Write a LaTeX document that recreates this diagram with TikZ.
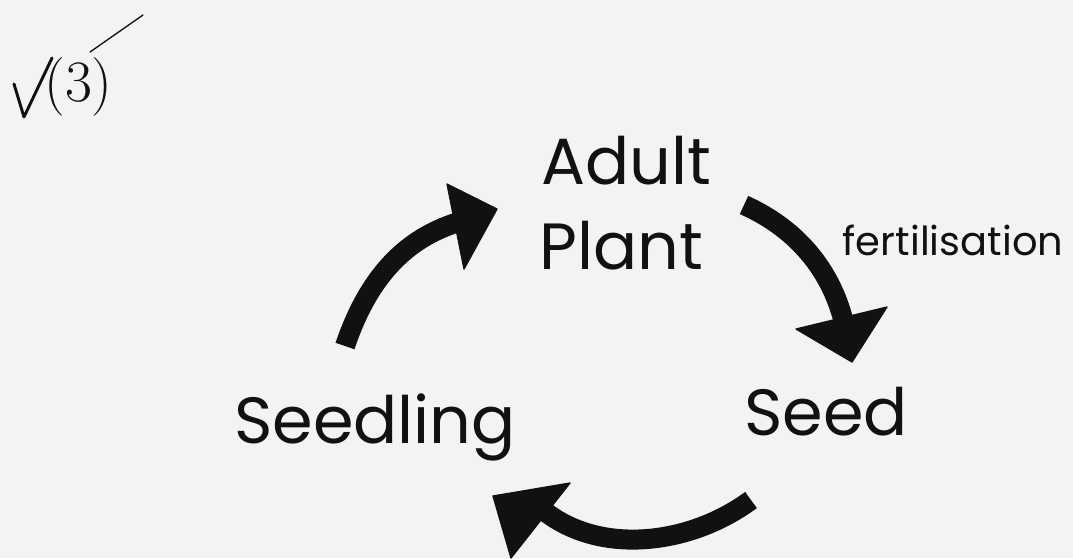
\documentclass[tikz,border=0pt]{standalone}
\usepackage{fontspec}
\setmainfont{Poppins}
\newfontfamily\handfont{Latin Modern Roman}
\definecolor{paper}{HTML}{F3F3F3}
\definecolor{ink}{HTML}{111111}
\tikzset{
  lbl/.style={anchor=base, inner sep=0pt, text=ink, font=\fontsize{49}{49}\selectfont},
  smalllbl/.style={anchor=base, inner sep=0pt, text=ink, font=\fontsize{30}{30}\selectfont},
  shaft/.style={draw=ink, line width=15pt, line cap=butt},
  headtri/.style={fill=ink, draw=ink, line width=1pt, line join=round},
  pen/.style={draw=ink, line width=2.2pt, line cap=round, line join=round},
  thinpen/.style={draw=ink, line width=1pt, line cap=round}
}
\begin{document}
\begin{tikzpicture}[x=0.75pt, y=-0.75pt]
\fill[paper] (0,0) rectangle (1073,558);
\useasboundingbox (0,0) rectangle (1073,558);

% labels
\node[lbl] (adult) at (626,184) {Adult};
\node[lbl] (plant) at (621,269) {Plant};
\node[lbl] (seedling) at (375,443) {Seedling};
\node[lbl] (seed) at (826,435) {Seed};
\node[smalllbl] (fert) at (953,255) {fertilisation};

% handwritten mark
\node[anchor=base west, inner sep=0pt, text=ink, font=\handfont\fontsize{44}{44}\selectfont] (mark) at (44,101) {(3)};
\coordinate (c1) at (14,84);
\coordinate (c2) at (24,117);
\coordinate (c3) at (52,58);
\draw[pen] (c1) -- (c2) -- (c3);
\coordinate (s1) at (90,52);
\coordinate (s2) at (143,15);
\draw[thinpen] (s1) -- (s2);

% arrow 1: seedling -> adult plant
\coordinate (a1s) at (345,346);
\coordinate (a1e) at (462,221);
\draw[shaft] (a1s) .. controls (370,272) and (410,236) .. (a1e);
\coordinate (h1a) at (447,184);
\coordinate (h1b) at (497,209);
\coordinate (h1c) at (464,269);
\fill[headtri] (h1a) -- (h1b) -- (h1c) -- cycle;

% arrow 2: adult plant -> seed
\coordinate (a2s) at (744,205);
\coordinate (a2e) at (846,332);
\draw[shaft] (a2s) .. controls (800,230) and (835,275) .. (a2e);
\coordinate (h2a) at (796,329);
\coordinate (h2b) at (887,307);
\coordinate (h2c) at (852,362);
\fill[headtri] (h2a) -- (h2b) -- (h2c) -- cycle;

% arrow 3: seed -> seedling
\coordinate (a3s) at (751,500);
\coordinate (a3e) at (543,510);
\draw[shaft] (a3s) .. controls (690,545) and (600,556) .. (a3e);
\coordinate (h3a) at (493,496);
\coordinate (h3b) at (570,483);
\coordinate (h3c) at (511,558);
\fill[headtri] (h3a) -- (h3b) -- (h3c) -- cycle;
\end{tikzpicture}
\end{document}
